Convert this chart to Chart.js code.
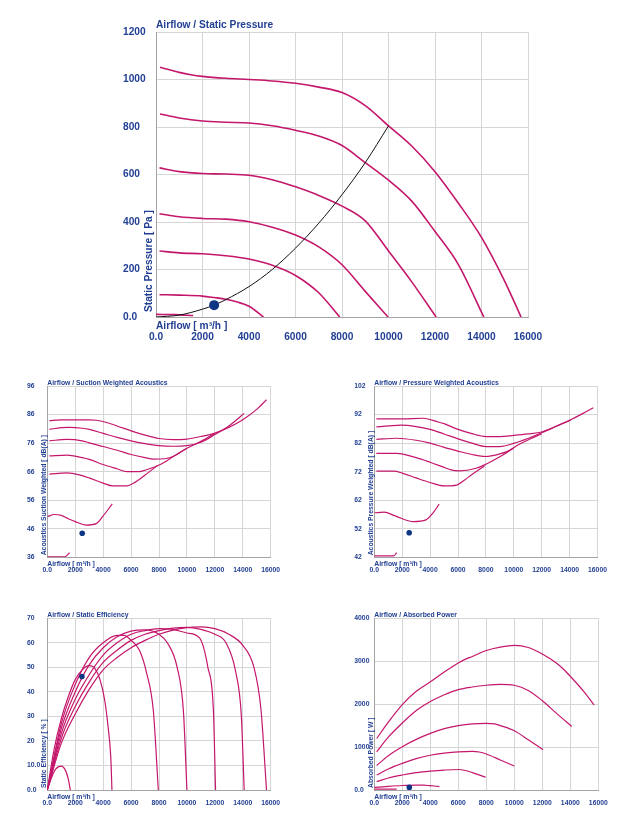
<!DOCTYPE html>
<html>
<head>
<meta charset="utf-8">
<title>Fan curves</title>
<script src="https://cdn.jsdelivr.net/npm/chart.js@4.4.1/dist/chart.umd.min.js"></script>
<style>
  html, body { margin: 0; padding: 0; background: #fff; }
  body { width: 642px; height: 821px; position: relative; overflow: hidden; }
  canvas { position: absolute; }
</style>
</head>
<body>
<canvas id="pressure" width="642" height="350" style="left:0;top:0"></canvas>
<canvas id="suction" width="321" height="220" style="left:0;top:360px"></canvas>
<canvas id="discharge" width="321" height="220" style="left:321px;top:360px"></canvas>
<canvas id="efficiency" width="321" height="231" style="left:0;top:590px"></canvas>
<canvas id="power" width="321" height="231" style="left:321px;top:590px"></canvas>
<script>
// ---- data (airflow m³/h, value) ----
const flowTicks = [0, 2000, 4000, 6000, 8000, 10000, 12000, 14000, 16000];
const flowLabels = ['0.0', '2000', '4000', '6000', '8000', '10000', '12000', '14000', '16000'];

const pressureTicks = [0, 200, 400, 600, 800, 1000, 1200];
const pressureLabels = ['0.0', '200', '400', '600', '800', '1000', '1200'];
const pressureCurves = [
    [[170,1052],[1000,1030],[1500,1020],[2000,1013],[3000,1005],[4000,1000],[5000,994],[6000,984],[7000,968],[8000,945],[9000,890],[10000,805],[11000,720],[12000,612],[13000,480],[14000,335],[15000,150],[15700,0]],
    [[170,855],[1000,838],[2000,825],[3000,820],[4000,817],[5000,805],[6000,786],[7000,762],[8000,722],[9000,650],[10000,576],[11000,488],[12000,360],[13000,222],[14100,0]],
    [[150,628],[1000,612],[2000,604],[3000,602],[4000,597],[5000,578],[6000,548],[7000,512],[8000,467],[9000,405],[10000,278],[11000,148],[12050,0]],
    [[150,435],[1000,422],[2000,415],[3000,412],[4000,401],[5000,378],[6000,345],[7000,295],[8000,220],[9000,108],[9980,0]],
    [[150,278],[1000,270],[2000,266],[3000,258],[4000,244],[5000,218],[6000,175],[7000,102],[7900,0]],
    [[150,94],[1000,92],[2000,88],[2500,82],[3000,75],[3500,63],[4000,45],[4620,0]],
    [[0,11],[800,10],[1600,6]]
];
const systemCurve = [[0,0],[1000,8],[2000,33],[2500,50],[3000,73],[4000,128],[5000,200],[6000,290],[7000,395],[8000,515],[9000,650],[10000,805]];
const pressurePoint = [2500, 50];

const suctionTicks = [36, 46, 56, 66, 76, 86, 96];
const suctionLabels = ['36', '46', '56', '66', '76', '86', '96'];
const suctionCurves = [
    [[150,83.9],[1000,84.1],[2000,84.1],[3000,84.1],[3500,84.0],[4250,83.2],[5000,82.0],[6000,80.3],[7000,78.8],[8000,77.6],[9000,77.2],[10000,77.4],[11000,78.3],[12000,79.5],[13000,81.5],[14000,84.2],[15000,87.8],[15700,91.2]],
    [[150,80.8],[1000,81.4],[1600,81.5],[2500,81.2],[3000,80.8],[4000,79.4],[5000,78.0],[6000,76.8],[7000,75.8],[8000,75.1],[9000,74.9],[10000,75.1],[11000,76.3],[12000,79.0],[13000,82.0],[14100,86.4]],
    [[150,76.8],[1400,77.3],[2500,76.8],[3000,76.1],[4000,74.8],[5000,73.5],[6000,72.0],[7000,70.9],[7600,70.4],[8500,70.6],[9000,71.3],[10000,74.2],[11000,76.6],[12000,79.4]],
    [[150,71.5],[1400,71.8],[2500,70.9],[3000,70.3],[4000,68.5],[5000,67.0],[5700,66.0],[6600,66.0],[7000,66.5],[8000,68.3],[9000,71.2],[10000,74.2]],
    [[150,65.1],[1400,65.6],[2500,64.6],[3000,63.8],[4000,62.0],[4700,61.0],[5700,61.0],[6200,62.0],[7000,64.8],[7900,68.2]],
    [[0,50.2],[500,51.0],[1000,50.7],[1500,49.5],[2000,48.5],[2800,47.3],[3500,47.8],[4000,50.5],[4650,54.7]],
    [[0,36.2],[1250,36.2],[1600,37.6]]
];
const suctionPoint = [2500, 44.4];

const dischargeTicks = [42, 52, 62, 72, 82, 92, 102];
const dischargeLabels = ['42', '52', '62', '72', '82', '92', '102'];
const dischargeCurves = [
    [[150,90.5],[1000,90.5],[2000,90.5],[3500,90.7],[4500,89.5],[5000,88.8],[6000,86.8],[7000,85.3],[8000,84.3],[9000,84.3],[10000,84.7],[11000,85.2],[12000,85.9],[13000,87.8],[14000,90.0],[15000,92.5],[15700,94.4]],
    [[150,87.7],[1000,88.0],[1900,88.3],[3000,87.8],[4000,86.8],[5000,85.2],[6000,83.5],[7000,82.0],[8000,80.8],[9000,80.8],[10000,81.9],[11000,83.6],[12000,85.6],[13000,87.8],[14100,90.1]],
    [[150,83.3],[1600,83.7],[3000,83.0],[4000,82.0],[5000,80.5],[6000,79.2],[7000,78.0],[8000,77.3],[9000,78.2],[9500,79.0],[10400,81.6],[11200,83.5],[12000,85.3]],
    [[150,78.4],[1600,78.4],[3000,76.9],[4000,75.3],[5000,73.5],[5500,72.6],[6100,72.3],[7300,73.2],[8000,74.6],[9000,77.2],[10000,80.3]],
    [[150,72.2],[1400,72.2],[2000,71.5],[3000,69.8],[4000,68.2],[5000,67.0],[5900,67.3],[6500,69.2],[7000,71.0],[7900,74.0]],
    [[0,57.6],[700,57.8],[1500,56.5],[2800,54.5],[3700,55.1],[4200,57.5],[4650,60.6]],
    [[0,42.5],[1400,42.5],[1600,43.6]]
];
const dischargePoint = [2500, 50.6];

const efficiencyTicks = [0, 10, 20, 30, 40, 50, 60, 70];
const efficiencyLabels = ['0.0', '10.0', '20', '30', '40', '50', '60', '70'];
const efficiencyCurves = [
    [[0,0],[1000,19],[2000,31],[3000,41],[4000,49],[5000,54],[6000,58],[7000,61],[8000,63.5],[9000,65.2],[10000,66.2],[11000,66.5],[12000,65.8],[13000,63.5],[14000,59],[14800,50],[15300,33],[15700,0]],
    [[0,0],[1000,21],[2000,34],[3000,44],[4000,52],[5000,57],[6000,61],[7000,63.5],[8000,65],[9000,66],[10000,66.3],[11000,65.5],[12000,63.5],[12800,60],[13500,48],[13900,30],[14100,0]],
    [[0,0],[1000,23],[2000,37],[3000,47],[4000,55],[5000,60],[6000,63.5],[7000,65],[8000,65.8],[9000,65.5],[10000,64],[10900,62],[11500,50],[11900,32],[12050,0]],
    [[0,0],[1000,25],[2000,40],[3000,51],[4000,58],[5000,62.5],[6000,64.8],[7000,65.3],[8000,63.5],[8600,60],[9300,50],[9750,32],[10000,0]],
    [[0,0],[1000,27],[2000,43],[3000,54],[4000,60],[5000,63],[5500,63],[6000,61],[6600,57],[7100,48],[7600,32],[7950,0]],
    [[0,0],[500,17],[1000,29],[1500,38],[2000,45],[2500,49],[3000,50.7],[3400,49.6],[3800,44.5],[4100,37],[4350,26],[4550,13],[4630,0]],
    [[0,0],[300,5],[600,8.5],[1000,9.7],[1300,8],[1500,4.5],[1650,0]]
];
const efficiencyPoint = [2480, 46.3];

const powerTicks = [0, 1000, 2000, 3000, 4000];
const powerLabels = ['0.0', '1000', '2000', '3000', '4000'];
const powerCurves = [
    [[170,1200],[1000,1580],[2000,1990],[3000,2300],[4000,2520],[5000,2750],[6000,2960],[6600,3060],[7000,3110],[8000,3250],[9000,3330],[10000,3370],[11000,3320],[12000,3170],[13000,2960],[13500,2820],[14000,2650],[15000,2280],[15700,1980]],
    [[170,890],[1000,1230],[2000,1560],[3000,1850],[4000,2060],[5000,2220],[6000,2340],[7000,2400],[8000,2440],[9000,2460],[10000,2440],[11000,2320],[12000,2080],[13000,1790],[14100,1480]],
    [[170,570],[1000,800],[2000,1010],[3000,1180],[4000,1320],[5000,1430],[6000,1500],[7000,1540],[8000,1550],[8600,1540],[9000,1500],[10000,1380],[11000,1170],[12050,940]],
    [[170,350],[1000,490],[2000,620],[3000,730],[4000,810],[5000,860],[6000,890],[7000,900],[7500,885],[8000,840],[9000,700],[10000,560]],
    [[170,195],[1000,280],[2000,350],[3000,405],[4000,440],[5000,465],[6000,478],[6500,455],[7000,405],[7950,300]],
    [[0,60],[1000,85],[2000,105],[3000,115],[3500,114],[4000,100],[4650,80]],
    [[0,20],[1600,20]]
];
const powerPoint = [2500, 60];

// ---- styling ----
const BLUE = '#213f93';
const PINK = '#c4176c';
const NAVY = '#0d3585';

function hasFont(name) {
    const c = document.createElement('canvas').getContext('2d');
    c.font = 'bold 20px monospace';
    const w = c.measureText('Airflow 0123').width;
    c.font = `bold 20px '${name}', monospace`;
    return c.measureText('Airflow 0123').width !== w;
}
const narrow = hasFont('Liberation Sans Narrow');
const FAMILY = narrow ? "'Liberation Sans Narrow'" : "'Liberation Sans', Arial";
const fs = (px) => narrow ? px : px * 0.85;

// draws the chart title, x title and the rotated y title around the plot box
const axisText = {
    id: 'axisText',
    afterDraw(chart, args, o) {
        const { ctx, chartArea: a } = chart;
        ctx.save();
        ctx.fillStyle = BLUE;
        ctx.font = `bold ${fs(o.size)}px ${FAMILY}`;
        ctx.textAlign = 'left';
        ctx.textBaseline = 'alphabetic';
        ctx.fillText(o.title, a.left, a.top - o.titleGap);
        ctx.fillText('Airflow [ m³/h ]', a.left, a.bottom + o.xGap);
        ctx.translate(a.left - o.yGap, a.bottom - o.yBottom);
        ctx.rotate(-Math.PI / 2);
        ctx.fillText(o.yTitle, 0, 0);
        ctx.restore();
    }
};

function buildChart(id, o) {
    const canvas = document.getElementById(id);
    const W = canvas.width, H = canvas.height;
    const datasets = [];
    datasets.push({
        data: [{ x: o.point[0], y: o.point[1] }],
        showLine: false,
        pointRadius: o.dot,
        pointBackgroundColor: NAVY,
        pointBorderWidth: 0,
        order: 0
    });
    o.curves.forEach(c => datasets.push({
        data: c.map(([x, y]) => ({ x, y })),
        showLine: true,
        borderColor: PINK,
        borderWidth: o.lineWidth,
        pointRadius: 0,
        fill: false,
        cubicInterpolationMode: 'monotone',
        order: 2
    }));
    if (o.system) {
        datasets.push({
            data: o.system.map(([x, y]) => ({ x, y })),
            showLine: true,
            borderColor: '#111',
            borderWidth: 1,
            pointRadius: 0,
            fill: false,
            cubicInterpolationMode: 'monotone',
            order: 1
        });
    }
    const tickFont = { family: FAMILY, size: fs(o.size), weight: 'bold' };
    return new Chart(canvas, {
        type: 'scatter',
        data: { datasets },
        options: {
            responsive: false,
            animation: false,
            events: [],
            layout: {
                padding: {
                    left: o.axisLeft,
                    right: W - o.area.r,
                    top: o.area.t,
                    bottom: H - o.area.b - o.xAxisH
                }
            },
            plugins: {
                legend: { display: false },
                tooltip: { enabled: false },
                axisText: o.text
            },
            scales: {
                x: {
                    type: 'linear',
                    min: 0,
                    max: 16000,
                    afterBuildTicks: s => { s.ticks = flowTicks.map(v => ({ value: v })); },
                    afterFit: s => { s.height = o.xAxisH; },
                    grid: { color: '#d6d6d6', drawTicks: false },
                    border: { color: '#a4a4a4' },
                    ticks: {
                        autoSkip: false,
                        maxRotation: 0,
                        padding: o.xPad,
                        color: BLUE,
                        font: tickFont,
                        callback: (v, i) => flowLabels[i]
                    }
                },
                y: {
                    type: 'linear',
                    min: o.yTicks[0],
                    max: o.yTicks[o.yTicks.length - 1],
                    afterBuildTicks: s => { s.ticks = o.yTicks.map(v => ({ value: v })); },
                    afterFit: s => { s.width = o.area.l - o.axisLeft; },
                    grid: { color: '#d6d6d6', drawTicks: false },
                    border: { color: '#a4a4a4' },
                    ticks: {
                        autoSkip: false,
                        crossAlign: 'far',
                        padding: 0,
                        color: BLUE,
                        font: tickFont,
                        callback: (v, i) => o.yLabels[i]
                    }
                }
            }
        },
        plugins: [axisText]
    });
}

const smallText = (title, yTitle) => ({ title, yTitle, size: 8, titleGap: 1.5, xGap: 8.5, yGap: 1.7, yBottom: 2 });

buildChart('pressure', {
    curves: pressureCurves, system: systemCurve, point: pressurePoint,
    yTicks: pressureTicks, yLabels: pressureLabels,
    area: { l: 156, r: 528, t: 32, b: 317 }, axisLeft: 123, xAxisH: 30, xPad: 14,
    size: 12, lineWidth: 1.6, dot: 5,
    text: { title: 'Airflow / Static Pressure', yTitle: 'Static Pressure [ Pa ]', size: 12, titleGap: 4, xGap: 12, yGap: 4, yBottom: 5 }
});
buildChart('suction', {
    curves: suctionCurves, point: suctionPoint,
    yTicks: suctionTicks, yLabels: suctionLabels,
    area: { l: 47.3, r: 270.7, t: 26, b: 197.3 }, axisLeft: 27, xAxisH: 20, xPad: 9,
    size: 8, lineWidth: 1.2, dot: 2.8,
    text: smallText('Airflow / Suction Weighted Acoustics', 'Acoustics Suction Weighted [ dB(A) ]')
});
buildChart('discharge', {
    curves: dischargeCurves, point: dischargePoint,
    yTicks: dischargeTicks, yLabels: dischargeLabels,
    area: { l: 53.3, r: 276.5, t: 26, b: 197.3 }, axisLeft: 33.3, xAxisH: 20, xPad: 9,
    size: 8, lineWidth: 1.2, dot: 2.8,
    text: smallText('Airflow / Pressure Weighted Acoustics', 'Acoustics Pressure Weighted [ dB(A) ]')
});
buildChart('efficiency', {
    curves: efficiencyCurves, point: efficiencyPoint,
    yTicks: efficiencyTicks, yLabels: efficiencyLabels,
    area: { l: 47.3, r: 270.7, t: 28.3, b: 200 }, axisLeft: 27, xAxisH: 20, xPad: 9,
    size: 8, lineWidth: 1.2, dot: 2.8,
    text: smallText('Airflow / Static Efficiency', 'Static Efficiency [ % ]')
});
buildChart('power', {
    curves: powerCurves, point: powerPoint,
    yTicks: powerTicks, yLabels: powerLabels,
    area: { l: 53.3, r: 277.3, t: 28.3, b: 200 }, axisLeft: 33.3, xAxisH: 20, xPad: 9,
    size: 8, lineWidth: 1.2, dot: 2.8,
    text: smallText('Airflow / Absorbed Power', 'Absorbed Power [ W ]')
});
</script>
</body>
</html>
